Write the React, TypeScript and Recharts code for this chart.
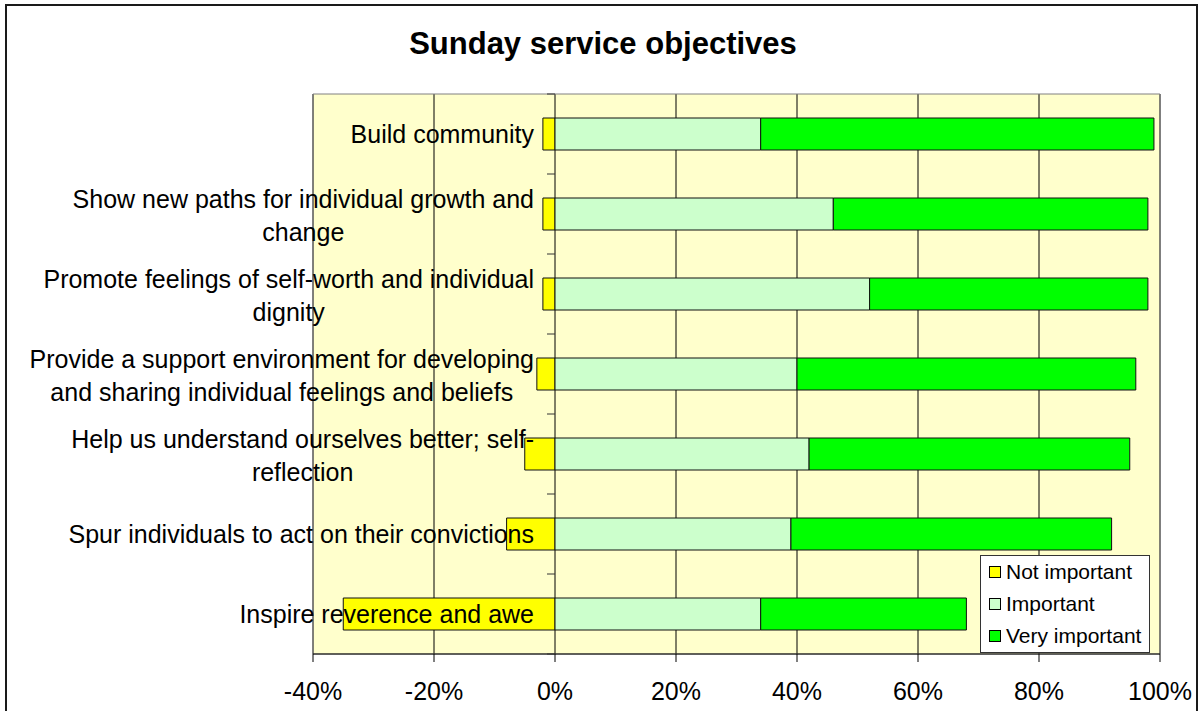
import { BarChart, Bar, XAxis, YAxis, CartesianGrid, Legend, ReferenceArea } from 'recharts'

const CATEGORIES = [
  'Build community',
  'Show new paths for individual growth and change',
  'Promote feelings of self-worth and individual dignity',
  'Provide a support environment for developing and sharing individual feelings and beliefs',
  'Help us understand ourselves better; self-reflection',
  'Spur individuals to act on their convictions',
  'Inspire reverence and awe',
]

// line breaks as in the original chart
const LABEL_LINES = [
  ['Build community'],
  ['Show new paths for individual growth and', 'change'],
  ['Promote feelings of self-worth and individual', 'dignity'],
  ['Provide a support environment for developing', 'and sharing individual feelings and beliefs'],
  ['Help us understand ourselves better; self-', 'reflection'],
  ['Spur individuals to act on their convictions'],
  ['Inspire reverence and awe'],
]

const NOT_IMPORTANT = [-2, -2, -2, -3, -5, -8, -35]
const IMPORTANT = [34, 46, 52, 40, 42, 39, 34]
const VERY_IMPORTANT = [65, 52, 46, 56, 53, 53, 34]

const X_TICKS = [-40, -20, 0, 20, 40, 60, 80, 100]

const SERIES = [
  { key: 'notImportant', name: 'Not important', color: '#FFFF00' },
  { key: 'important', name: 'Important', color: '#CCFFCC' },
  { key: 'veryImportant', name: 'Very important', color: '#00FF00' },
]

const data = CATEGORIES.map((name, i) => ({
  name,
  notImportant: NOT_IMPORTANT[i],
  important: IMPORTANT[i],
  veryImportant: VERY_IMPORTANT[i],
}))

const FONT = '"Liberation Sans", Arial, sans-serif'
const W = 1198
const H = 711
const PLOT_LEFT = 313
const PLOT_RIGHT = 1160
const X_MIN = X_TICKS[0]
const X_MAX = X_TICKS[X_TICKS.length - 1]
const ZERO_X = PLOT_LEFT + ((0 - X_MIN) / (X_MAX - X_MIN)) * (PLOT_RIGHT - PLOT_LEFT)
const LABEL_SIZE = 25
const LINE_GAP = 33

let measureCtx: CanvasRenderingContext2D | null = null
function textWidth(s: string) {
  if (!measureCtx) {
    measureCtx = document.createElement('canvas').getContext('2d')
    if (measureCtx) measureCtx.font = `${LABEL_SIZE}px "Liberation Sans"`
  }
  return measureCtx ? measureCtx.measureText(s).width : s.length * LABEL_SIZE * 0.5
}

function CategoryTick(props: any) {
  const { y, payload } = props
  const idx = CATEGORIES.indexOf(payload?.value)
  const lines = LABEL_LINES[idx] ?? [String(payload?.value)]
  const half = payload?.offset || 40
  const right = ZERO_X - 21
  const blockW = Math.max(...lines.map(textWidth))
  const cx = right - blockW / 2
  const n = lines.length
  return (
    <g>
      <line x1={ZERO_X - 8} x2={ZERO_X} y1={y - half} y2={y - half} stroke="#333" />
      {idx === CATEGORIES.length - 1 && (
        <line x1={ZERO_X - 8} x2={ZERO_X} y1={y + half} y2={y + half} stroke="#333" />
      )}
      <text fontSize={LABEL_SIZE} fontFamily={FONT} fill="#000" textAnchor="middle">
        {lines.map((l, i) => (
          <tspan key={i} x={cx} y={y + 9 + (i - (n - 1) / 2) * LINE_GAP + (n > 1 ? 1 : 0)}>
            {l}
          </tspan>
        ))}
      </text>
    </g>
  )
}

function LegendBox(props: any) {
  // keep the series order of the original legend
  const colorOf = (name: string, fallback: string) =>
    (props.payload || []).find((p: any) => p.value === name)?.color || fallback
  return (
    <div
      style={{
        boxSizing: 'border-box',
        width: 170,
        height: 98,
        background: '#fff',
        border: '1px solid #333',
        fontFamily: FONT,
        fontSize: 21,
        color: '#000',
      }}
    >
      {SERIES.map(s => (
        <div key={s.key} style={{ height: 32, display: 'flex', alignItems: 'center', paddingLeft: 8 }}>
          <span
            style={{
              display: 'inline-block',
              boxSizing: 'border-box',
              width: 12,
              height: 12,
              background: colorOf(s.name, s.color),
              border: '1px solid #000',
              marginRight: 5,
            }}
          />
          <span>{s.name}</span>
        </div>
      ))}
    </div>
  )
}

export default function App() {
  return (
    <div style={{ position: 'absolute', left: 0, top: 0, width: W, height: H, overflow: 'hidden', background: '#fff' }}>
      <div
        style={{
          position: 'absolute',
          left: 5,
          top: 4,
          width: W - 5,
          height: H + 20,
          border: '2px solid #1a1a1a',
          boxSizing: 'border-box',
        }}
      />
      <div style={{ position: 'absolute', left: 0, top: 0 }}>
        <BarChart
          width={W}
          height={H}
          data={data}
          layout="vertical"
          stackOffset="sign"
          barCategoryGap="30%"
          margin={{ top: 94, right: W - PLOT_RIGHT, bottom: 0, left: PLOT_LEFT - 1 }}
        >
          <CartesianGrid horizontal={false} stroke="#000" fill="#FFFFCC" fillOpacity={1} />
          <ReferenceArea x1={X_MIN} x2={X_MAX} fill="none" stroke="#808080" strokeWidth={1} ifOverflow="extendDomain" />
          <XAxis
            type="number"
            domain={[X_MIN, X_MAX]}
            ticks={X_TICKS}
            interval={0}
            allowDataOverflow
            tickFormatter={(v: number) => `${v}%`}
            height={57}
            stroke="#000"
            tickSize={8}
            tickMargin={20}
            tick={{ fontSize: 25, fill: '#000', fontFamily: FONT }}
          />
          {SERIES.map(s => (
            <Bar
              key={s.key}
              dataKey={s.key}
              name={s.name}
              stackId="a"
              fill={s.color}
              stroke="#111"
              strokeWidth={1}
              isAnimationActive={false}
            />
          ))}
          <Legend
            layout="vertical"
            align="center"
            verticalAlign="middle"
            content={<LegendBox />}
            wrapperStyle={{ left: 980, top: 555, width: 170, height: 98 }}
          />
          <YAxis
            type="category"
            dataKey="name"
            width={1}
            interval={0}
            axisLine={false}
            tickLine={false}
            tickSize={0}
            tick={<CategoryTick />}
          />
        </BarChart>
      </div>
      <svg width={W} height={80} style={{ position: 'absolute', left: 0, top: 0, pointerEvents: 'none' }}>
        <text x={603} y={54} textAnchor="middle" fontFamily={FONT} fontWeight="bold" fontSize={31} fill="#000">
          Sunday service objectives
        </text>
      </svg>
    </div>
  )
}
